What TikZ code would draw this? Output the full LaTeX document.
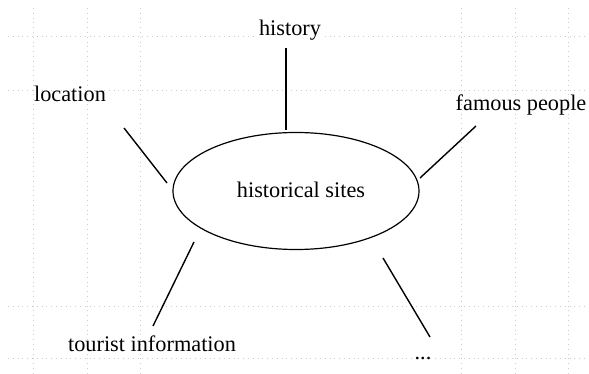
\documentclass[tikz,border=0pt]{standalone}
\usepackage{fontspec}
\setmainfont{Liberation Serif}
\usetikzlibrary{shapes.geometric}

\tikzset{
    gridline/.style={gray!40, dotted, line width=0.4pt},
    spoke/.style={line width=0.7pt},
    topic/.style={font=\fontsize{11.15}{13}\selectfont, inner sep=1pt, anchor=base},
}

\begin{document}
\begin{tikzpicture}[x=0.5pt, y=-0.5pt]
    \useasboundingbox (0,0) rectangle (589,374);
    \draw[gridline] (8,36) -- (589,36);
    \draw[gridline] (8,90) -- (589,90);
    \draw[gridline] (8,306) -- (589,306);
    \draw[gridline] (8,358) -- (589,358);
    \draw[gridline] (33,8) -- (33,374);
    \draw[gridline] (87,8) -- (87,374);
    \draw[gridline] (140,8) -- (140,374);
    \draw[gridline] (461,8) -- (461,374);
    \draw[gridline] (515,8) -- (515,374);
    \draw[gridline] (568,8) -- (568,374);

    \node[draw, ellipse, line width=0.6pt, fill=white, minimum width=123pt, minimum height=58.5pt, inner sep=0pt] (sites) at (296,191) {};
    \node[topic] (sitestext) at (301,198) {historical sites};

    \node[topic, fill=white] (history) at (290,36) {history};
    \node[topic] (location) at (70,102) {location};
    \node[topic] (famous) at (521,111) {famous people};
    \node[topic] (tourist) at (152,351) {tourist information};
    \node[topic] (more) at (423,359) {...};

    \coordinate (history-a) at (286,48);
    \coordinate (history-b) at (286,130);
    \coordinate (location-a) at (124,128);
    \coordinate (location-b) at (167,183);
    \coordinate (famous-a) at (476,126);
    \coordinate (famous-b) at (420,178);
    \coordinate (tourist-a) at (153,326);
    \coordinate (tourist-b) at (194,242);
    \coordinate (more-a) at (430,337);
    \coordinate (more-b) at (383,258);

    \draw[spoke] (history-a) -- (history-b);
    \draw[spoke] (location-a) -- (location-b);
    \draw[spoke] (famous-a) -- (famous-b);
    \draw[spoke] (tourist-a) -- (tourist-b);
    \draw[spoke] (more-a) -- (more-b);
\end{tikzpicture}
\end{document}
